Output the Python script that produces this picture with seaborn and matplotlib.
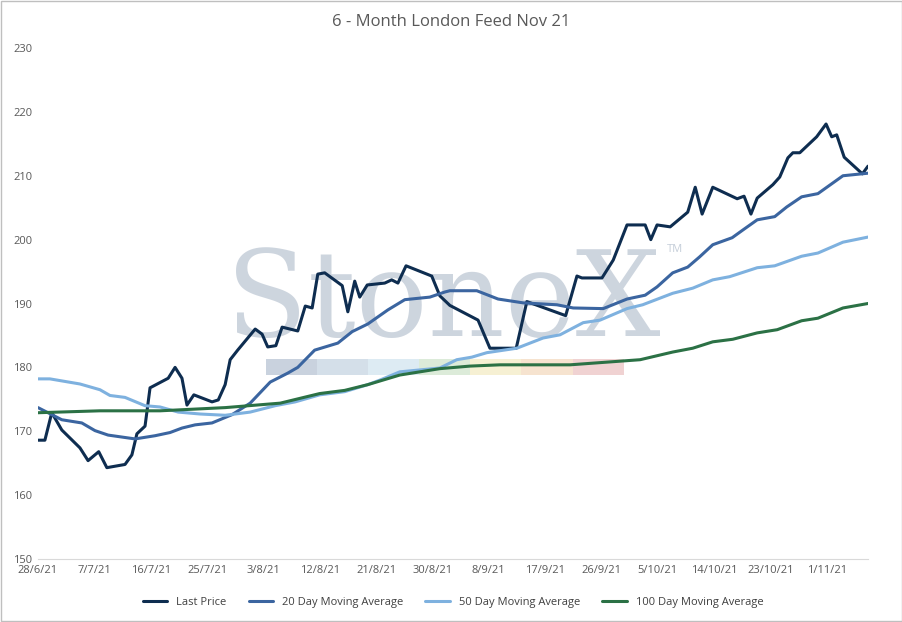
import pandas as pd
import matplotlib.pyplot as plt
import seaborn as sns
from matplotlib.patches import Rectangle

start = pd.Timestamp('2021-06-28')

# day offsets from 28/6/21 and values
last_days = [0, 1.1, 2.2, 3.8, 6.7, 8.0, 9.7, 11.0, 13.9, 15.0, 15.8, 17.1, 17.9, 20.8, 21.9, 23.0, 23.8, 24.9, 27.8, 28.8,
             29.9, 30.7, 31.9, 34.7, 35.8, 36.7, 38.0, 39.0, 41.5, 42.7, 43.8, 44.7, 45.8, 48.6, 49.5, 50.6, 51.4, 52.6, 55.4, 56.5,
             57.5, 58.8, 62.9, 64.2, 65.8, 70.3, 72.2, 76.4, 78.1, 84.3, 86.1, 86.9, 90.1, 91.9, 94.1, 97.0, 97.9, 98.9, 101.0, 103.8,
             105.0, 106.1, 107.8, 111.7, 112.8, 113.9, 114.9, 117.4, 118.5, 119.8, 120.6, 121.7, 124.4, 125.9, 126.8, 127.6, 128.8, 131.7, 132.6]
last_price = [168.6, 168.6, 172.9, 170.2, 167.4, 165.4, 166.8, 164.3, 164.8, 166.3, 169.6, 170.8, 176.8, 178.3, 180, 178.3, 174.1, 175.7, 174.6, 174.9,
              177.3, 181.2, 182.7, 186.0, 185.2, 183.2, 183.4, 186.3, 185.7, 189.6, 189.3, 194.6, 194.8, 192.8, 188.7, 193.5, 191, 192.9, 193.2, 193.7,
              193.2, 195.9, 194.3, 191.2, 189.7, 187.4, 183, 183, 190.3, 188.1, 194.3, 194, 194, 196.8, 202.3, 202.3, 200, 202.3, 202, 204.3,
              208.2, 204, 208.2, 206.4, 206.8, 204, 206.5, 208.6, 209.8, 212.8, 213.6, 213.6, 216.1, 218.1, 216.1, 216.4, 212.9, 210.3, 211.5]

ma20_days = [0, 3.8, 7.0, 9.1, 11.2, 15.5, 18.7, 21.1, 23.0, 25.1, 27.8, 31.0, 33.9, 37.1, 39.9, 41.5, 44.2, 47.9, 50.2, 52.7,
             55.9, 58.6, 62.6, 65.0, 65.8, 70.1, 73.5, 77.5, 82.9, 85.5, 90.3, 94.1, 97.0, 98.9, 101.4, 103.8, 105.7, 107.8, 110.9, 112.6,
             114.9, 117.7, 119.6, 122.0, 124.6, 128.6, 132.6]
ma20 = [173.7, 171.8, 171.3, 170.1, 169.4, 168.8, 169.3, 169.8, 170.5, 171, 171.3, 172.6, 174.4, 177.7, 179.1, 180, 182.7, 183.8, 185.6, 186.8,
        189, 190.6, 191, 191.8, 192, 192, 190.7, 190.1, 189.8, 189.3, 189.2, 190.7, 191.3, 192.6, 194.8, 195.7, 197.3, 199.2, 200.3, 201.5,
        203.1, 203.6, 205.1, 206.7, 207.2, 210, 210.4]

ma50_days = [0, 1.9, 6.7, 9.9, 11.5, 13.9, 17.1, 19.5, 22.4, 25.9, 29.9, 33.9, 37.9, 41.1, 45.0, 49.0, 52.7, 54.6, 57.8, 64.2,
             66.9, 69.3, 71.7, 76.5, 80.7, 83.4, 87.1, 89.8, 94.1, 96.6, 101.4, 104.6, 107.8, 110.5, 114.9, 117.7, 122.0, 124.6, 128.6, 132.6]
ma50 = [178.2, 178.2, 177.4, 176.5, 175.6, 175.3, 174, 173.8, 173, 172.7, 172.5, 173, 174, 174.6, 175.7, 176.2, 177.3, 178, 179.3, 179.9,
        181.2, 181.6, 182.3, 183, 184.6, 185.1, 187, 187.4, 189.2, 189.8, 191.6, 192.4, 193.7, 194.2, 195.6, 195.9, 197.4, 197.9, 199.6, 200.4]

ma100_days = [0, 9.9, 19.5, 29.9, 38.7, 45.0, 49.0, 52.7, 57.8, 64.2, 69.0, 73.8, 85.0, 96.2, 101.4, 104.6, 107.8, 111.0, 114.9, 118.1,
              122.0, 124.6, 128.6, 132.6]
ma100 = [172.9, 173.2, 173.2, 173.7, 174.4, 175.9, 176.4, 177.3, 178.8, 179.8, 180.2, 180.4, 180.4, 181.2, 182.4, 183, 184, 184.4, 185.4, 185.9,
         187.3, 187.7, 189.3, 190]

series = [
    ('Last Price', last_days, last_price, '#0e2d50'),
    ('20 Day Moving Average', ma20_days, ma20, '#3b65a0'),
    ('50 Day Moving Average', ma50_days, ma50, '#7eb1df'),
    ('100 Day Moving Average', ma100_days, ma100, '#2b7145'),
]

frames = []
for name, days, vals, _ in series:
    frames.append(pd.DataFrame({'Date': start + pd.to_timedelta(days, unit='D'), 'Value': vals, 'Series': name}))
df = pd.concat(frames, ignore_index=True)

sns.set_style('white')
plt.rcParams['font.family'] = ['Open Sans', 'DejaVu Sans']

fig = plt.figure(figsize=(9.03, 6.22), dpi=100)
ax = fig.add_axes([38 / 903, 1 - 559 / 622, 830 / 903, 511 / 622])

# watermark
ax.text(0.488, 0.5, 'StoneX', transform=ax.transAxes, ha='center', va='center',
        fontsize=86, family='DejaVu Serif', color='#c5ced9', alpha=0.85, zorder=0)
ax.text(0.758, 0.6, 'TM', transform=ax.transAxes, fontsize=8, color='#c5ced9', zorder=0)
band_colors = ['#c9d2de', '#d4dfe9', '#ddebf3', '#dcebd9', '#f6f0d3', '#f6e3cf', '#f0d2d2']
for i, c in enumerate(band_colors):
    ax.add_patch(Rectangle((0.275 + i * 0.0615, 0.36), 0.0615, 0.032, transform=ax.transAxes,
                           color=c, lw=0, zorder=0))

palette = {name: c for name, _, _, c in series}
sns.lineplot(data=df, x='Date', y='Value', hue='Series', palette=palette, lw=2.2, ax=ax, zorder=3)

ax.set_xlim(start, start + pd.Timedelta(days=132.6))
ax.set_ylim(150, 230)
ax.set_yticks(range(150, 231, 10))
ticks = [start + pd.Timedelta(days=9 * i) for i in range(15)]
ax.set_xticks(ticks)
ax.set_xticklabels([f'{t.day}/{t.month}/{t.strftime("%y")}' for t in ticks])
ax.tick_params(axis='both', labelsize=8, colors='#595959', length=0, pad=4)
for s in ['top', 'right', 'left']:
    ax.spines[s].set_visible(False)
ax.spines['bottom'].set_color('#d9d9d9')
ax.set_xlabel('')
ax.set_ylabel('')

ax.legend(loc='upper center', bbox_to_anchor=(0.5, -0.055), ncol=4, frameon=False,
          fontsize=8, handlelength=2.2, columnspacing=2.0, labelcolor='#404040')

fig.text(0.5, 0.965, '6 - Month London Feed Nov 21', ha='center', va='center', fontsize=12, color='#595959')
fig.add_artist(Rectangle((0.001, 0.001), 0.998, 0.998, transform=fig.transFigure, fill=False, ec='#bfbfbf', lw=1))

fig.savefig('out.png', dpi=100)
